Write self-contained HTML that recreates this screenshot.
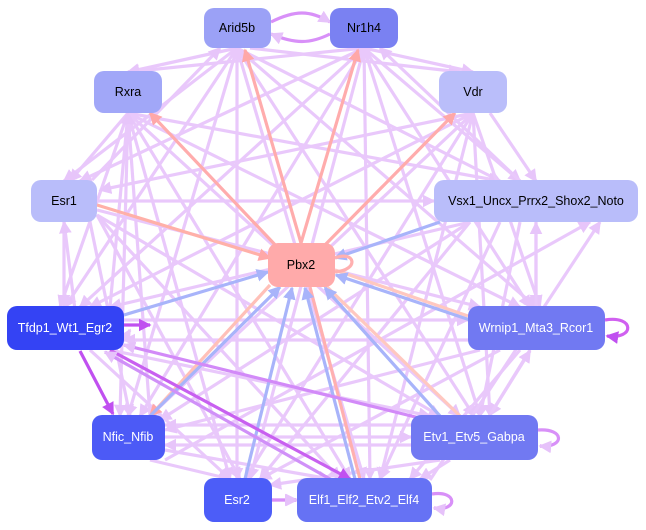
<!DOCTYPE html>
<html><head><meta charset="utf-8"><style>
html,body{margin:0;padding:0;background:#fff;width:646px;height:530px;overflow:hidden}
svg text{font-family:"Liberation Sans",sans-serif;font-size:12.5px;text-anchor:middle;dominant-baseline:central}
</style></head><body>
<svg width="646" height="530" viewBox="0 0 646 530" xmlns="http://www.w3.org/2000/svg">
<defs>
<marker id="a" markerWidth="4" markerHeight="4" refX="3.5" refY="2" orient="auto"><path d="M0,0L4,2L0,4z" fill="#e6c2fa"/></marker>
<marker id="r" markerWidth="4" markerHeight="4" refX="3.5" refY="2" orient="auto"><path d="M0,0L4,2L0,4z" fill="#ffa8a8"/></marker>
<marker id="b" markerWidth="4" markerHeight="4" refX="3.5" refY="2" orient="auto"><path d="M0,0L4,2L0,4z" fill="#a8b4fa"/></marker>
<marker id="p" markerWidth="4" markerHeight="4" refX="3.5" refY="2" orient="auto"><path d="M0,0L4,2L0,4z" fill="#c050f0"/></marker>
</defs>
<g stroke="#e8c6fb" stroke-width="3.2" fill="none" marker-end="url(#a)" opacity="0.95">
<line x1="237" y1="48" x2="128" y2="72"/><line x1="237" y1="48" x2="64" y2="181"/><line x1="237" y1="48" x2="65" y2="307"/><line x1="237" y1="48" x2="128" y2="416"/><line x1="237" y1="48" x2="237" y2="479"/><line x1="237" y1="48" x2="364" y2="479"/><line x1="237" y1="48" x2="474" y2="416"/><line x1="237" y1="48" x2="536" y2="307"/><line x1="237" y1="48" x2="500" y2="181"/><line x1="250" y1="48" x2="460" y2="72"/>
<line x1="364" y1="48" x2="128" y2="72"/><line x1="364" y1="48" x2="473" y2="72"/><line x1="364" y1="48" x2="80" y2="181"/><line x1="364" y1="48" x2="80" y2="307"/><line x1="364" y1="48" x2="140" y2="416"/><line x1="364" y1="48" x2="250" y2="479"/><line x1="364" y1="48" x2="370" y2="479"/><line x1="364" y1="48" x2="480" y2="416"/><line x1="364" y1="48" x2="530" y2="307"/><line x1="364" y1="48" x2="520" y2="181"/>
<line x1="128" y1="113" x2="500" y2="181"/><line x1="128" y1="113" x2="520" y2="307"/><line x1="128" y1="113" x2="460" y2="416"/><line x1="128" y1="113" x2="350" y2="479"/><line x1="128" y1="113" x2="230" y2="479"/><line x1="128" y1="113" x2="120" y2="416"/><line x1="128" y1="113" x2="60" y2="307"/><line x1="128" y1="113" x2="70" y2="181"/>
<line x1="473" y1="113" x2="100" y2="190"/><line x1="473" y1="113" x2="90" y2="307"/><line x1="473" y1="113" x2="150" y2="416"/><line x1="473" y1="113" x2="245" y2="479"/><line x1="473" y1="113" x2="380" y2="479"/><line x1="473" y1="113" x2="490" y2="416"/><line x1="473" y1="113" x2="540" y2="307"/><line x1="490" y1="113" x2="536" y2="181"/>
<line x1="97" y1="201" x2="434" y2="201"/><line x1="97" y1="210" x2="480" y2="307"/><line x1="97" y1="215" x2="440" y2="416"/><line x1="97" y1="215" x2="340" y2="479"/><line x1="97" y1="215" x2="240" y2="479"/><line x1="90" y1="222" x2="130" y2="416"/><line x1="64" y1="222" x2="64" y2="306"/>
<line x1="470" y1="222" x2="110" y2="307"/><line x1="470" y1="222" x2="160" y2="420"/><line x1="470" y1="222" x2="260" y2="479"/><line x1="500" y1="222" x2="380" y2="479"/><line x1="520" y1="222" x2="480" y2="416"/><line x1="536" y1="222" x2="536" y2="306"/><line x1="536" y1="306" x2="536" y2="223"/>
<line x1="124" y1="320" x2="468" y2="320"/><line x1="110" y1="350" x2="430" y2="416"/><line x1="90" y1="350" x2="230" y2="479"/><line x1="124" y1="340" x2="130" y2="330"/>
<line x1="468" y1="340" x2="124" y2="340"/><line x1="480" y1="350" x2="165" y2="430"/><line x1="500" y1="350" x2="260" y2="479"/><line x1="520" y1="350" x2="410" y2="479"/><line x1="530" y1="350" x2="490" y2="415"/><line x1="490" y1="415" x2="530" y2="351"/>
<line x1="165" y1="437" x2="411" y2="437"/><line x1="411" y1="445" x2="165" y2="445"/><line x1="165" y1="450" x2="330" y2="479"/><line x1="150" y1="460" x2="230" y2="479"/>
<line x1="440" y1="460" x2="270" y2="485"/><line x1="450" y1="460" x2="420" y2="479"/><line x1="411" y1="425" x2="165" y2="425"/>
<line x1="272" y1="500" x2="297" y2="500"/>
<line x1="80" y1="350" x2="64" y2="222"/><line x1="110" y1="307" x2="128" y2="113"/><line x1="150" y1="416" x2="128" y2="113"/>
<line x1="92" y1="180" x2="220" y2="48"/><line x1="520" y1="181" x2="380" y2="48"/><line x1="430" y1="480" x2="600" y2="222"/><line x1="165" y1="460" x2="590" y2="222"/>
</g>
<g fill="none" stroke-width="3.2">
<line x1="301" y1="243" x2="245" y2="50" stroke="#ffacac" marker-end="url(#r)"/>
<line x1="301" y1="243" x2="358" y2="50" stroke="#ffacac" marker-end="url(#r)"/>
<line x1="280" y1="250" x2="150" y2="113" stroke="#ffacac" marker-end="url(#r)"/>
<line x1="320" y1="250" x2="455" y2="113" stroke="#ffacac" marker-end="url(#r)"/>
<line x1="97" y1="205" x2="270" y2="258" stroke="#ffb0a8" marker-end="url(#r)"/>
<line x1="320" y1="280" x2="460" y2="416" stroke="#ffc8c0"/>
<line x1="335" y1="270" x2="468" y2="316" stroke="#ffc8c0"/>
<line x1="270" y1="285" x2="150" y2="416" stroke="#ffc0b8" marker-end="url(#r)"/>
<line x1="310" y1="287" x2="360" y2="479" stroke="#ffb0b0"/>
<line x1="124" y1="315" x2="268" y2="272" stroke="#a8b4fa" marker-end="url(#b)"/>
<line x1="150" y1="416" x2="280" y2="287" stroke="#a8b4fa" marker-end="url(#b)"/>
<line x1="245" y1="479" x2="292" y2="288" stroke="#a8b4fa" marker-end="url(#b)"/>
<line x1="355" y1="479" x2="305" y2="288" stroke="#a8b4fa" marker-end="url(#b)"/>
<line x1="440" y1="222" x2="335" y2="258" stroke="#a8b4fa" marker-end="url(#b)"/>
<line x1="470" y1="320" x2="336" y2="275" stroke="#a8b4fa" marker-end="url(#b)"/>
<line x1="440" y1="416" x2="325" y2="288" stroke="#a8b4fa" marker-end="url(#b)"/>
<path d="M335,258 C355,250 360,270 335,272" stroke="#ffb0b0"/>
<line x1="80" y1="351" x2="113" y2="414" stroke="#c050f0" marker-end="url(#p)"/>
<line x1="110" y1="350" x2="350" y2="479" stroke="#c860f0" marker-end="url(#p)"/>
<line x1="330" y1="479" x2="105" y2="352" stroke="#d090f8" marker-end="url(#a)"/>
<line x1="124" y1="325" x2="150" y2="325" stroke="#c050f0" marker-end="url(#p)"/>
<line x1="468" y1="430" x2="124" y2="345" stroke="#d28af8" marker-end="url(#a)"/>
<line x1="272" y1="500" x2="296" y2="500" stroke="#d890f8" marker-end="url(#a)"/>
<path d="M271,22 C295,10 310,10 330,22" stroke="#d890f8" marker-end="url(#a)"/>
<path d="M330,34 C310,44 295,44 271,34" stroke="#d890f8" marker-end="url(#a)"/>
<path d="M605,320 C635,315 635,340 607,336" stroke="#d060f0" marker-end="url(#p)"/>
<path d="M538,430 C565,428 565,448 540,446" stroke="#d890f8" marker-end="url(#a)"/>
<path d="M432,494 C458,490 458,512 434,508" stroke="#d890f8" marker-end="url(#a)"/>
</g>
<g>
<rect x="204" y="8" width="67" height="40" rx="10" fill="#9ba1f6"/><text x="237" y="28">Arid5b</text>
<rect x="330" y="8" width="68" height="40" rx="10" fill="#7a81f2"/><text x="364" y="28">Nr1h4</text>
<rect x="94" y="71" width="68" height="42" rx="10" fill="#a1a7f8"/><text x="128" y="92">Rxra</text>
<rect x="439" y="71" width="68" height="42" rx="10" fill="#babefa"/><text x="473" y="92">Vdr</text>
<rect x="31" y="180" width="66" height="42" rx="10" fill="#b9bdfa"/><text x="64" y="201">Esr1</text>
<rect x="434" y="180" width="204" height="42" rx="10" fill="#b9bdfa"/><text x="536" y="201">Vsx1_Uncx_Prrx2_Shox2_Noto</text>
<rect x="268" y="243" width="67" height="44" rx="10" fill="#ffaaaa"/><text x="301" y="265">Pbx2</text>
<rect x="7" y="306" width="117" height="44" rx="10" fill="#3443f4"/><text x="65" y="328" fill="#fff">Tfdp1_Wt1_Egr2</text>
<rect x="468" y="306" width="137" height="44" rx="10" fill="#7179f2"/><text x="536" y="328" fill="#fff">Wrnip1_Mta3_Rcor1</text>
<rect x="92" y="415" width="73" height="45" rx="10" fill="#4c5af6"/><text x="128" y="437" fill="#fff">Nfic_Nfib</text>
<rect x="411" y="415" width="127" height="45" rx="10" fill="#7179f2"/><text x="474" y="437" fill="#fff">Etv1_Etv5_Gabpa</text>
<rect x="204" y="478" width="68" height="44" rx="10" fill="#4c5df8"/><text x="237" y="500" fill="#fff">Esr2</text>
<rect x="297" y="478" width="135" height="44" rx="10" fill="#6672f4"/><text x="364" y="500" fill="#fff">Elf1_Elf2_Etv2_Elf4</text>
</g>
</svg>
</body></html>
